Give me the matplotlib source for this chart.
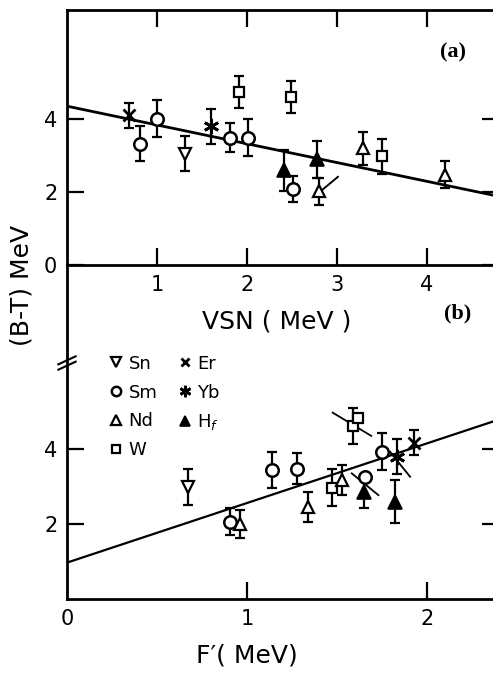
import numpy as np
import matplotlib
matplotlib.use("Agg")
import matplotlib.pyplot as plt
from matplotlib.lines import Line2D

# ---- panel (a): VSN ----
a_x = [0.69, 0.81, 1.00, 1.31, 1.60, 1.81, 2.01, 1.91, 2.49, 2.41, 2.51, 2.78, 2.80, 3.29, 3.50, 4.20]
a_y = [4.11, 3.33, 4.02, 3.06, 3.81, 3.50, 3.50, 4.75, 4.61, 2.60, 2.08, 2.90, 2.03, 3.20, 2.99, 2.48]
a_err = [0.35, 0.48, 0.50, 0.48, 0.48, 0.40, 0.52, 0.45, 0.43, 0.57, 0.35, 0.50, 0.37, 0.46, 0.48, 0.37]
a_el = ["Er", "Sm", "Sm", "Sn", "Yb", "Sm", "Sm", "W", "W", "Hf", "Sm", "Hf", "Nd", "Nd", "W", "Nd"]
a_fit = (4.36, -0.516)
a_tracks = [([2.83, 3.01], [2.05, 2.42])]

# ---- panel (b): F' ----
b_x = [0.67, 0.906, 0.96, 1.14, 1.28, 1.34, 1.47, 1.526, 1.59, 1.615, 1.656, 1.65, 1.748, 1.835, 1.822, 1.93]
b_y = [2.99, 2.06, 2.00, 3.44, 3.48, 2.46, 2.97, 3.17, 4.61, 4.84, 3.26, 2.86, 3.93, 3.80, 2.60, 4.17]
b_err = [0.49, 0.36, 0.38, 0.48, 0.41, 0.40, 0.49, 0.40, 0.48, 0.0, 0.0, 0.43, 0.50, 0.47, 0.58, 0.33]
b_el = ["Sn", "Sm", "Nd", "Sm", "Sm", "Nd", "W", "Nd", "W", "W", "Sm", "Hf", "Sm", "Yb", "Hf", "Er"]
b_fit = (0.97, 1.59)
b_tracks = [([1.476, 1.69], [4.97, 4.35]),
            ([1.582, 1.73], [3.35, 2.77]),
            ([1.794, 1.906], [3.93, 3.26])]

legend_order = ["Sn", "Sm", "Nd", "W", "Er", "Yb", "Hf"]
legend_names = {"Sn": "Sn", "Sm": "Sm", "Nd": "Nd", "W": "W",
                "Er": "Er", "Yb": "Yb", "Hf": "H$_f$"}

# marker styles per element
styles = {
    "Sn": dict(marker="v", ms=9, mfc="white", mec="black", mew=1.6),
    "Sm": dict(marker="o", ms=9, mfc="white", mec="black", mew=1.8),
    "Nd": dict(marker="^", ms=9, mfc="white", mec="black", mew=1.6),
    "W":  dict(marker="s", ms=7, mfc="white", mec="black", mew=1.6),
    "Er": dict(marker="x", ms=8, mfc="black", mec="black", mew=2.0),
    "Yb": dict(marker=(6, 2, 0), ms=11, mfc="black", mec="black", mew=2.0),
    "Hf": dict(marker="^", ms=10, mfc="black", mec="black", mew=1.2),
}

plt.rcParams["font.family"] = ["DejaVu Sans"]

fig = plt.figure(figsize=(4.93, 6.74), dpi=100)
W, H = 493.0, 674.0

def draw_points(ax, xs, ys, errs, els):
    for x, y, e, el in zip(xs, ys, errs, els):
        if e > 0:
            ax.errorbar([x], [y], yerr=[e], fmt="none", ecolor="black",
                        elinewidth=1.6, capsize=3.5, capthick=1.6, zorder=3)
        ax.plot([x], [y], linestyle="none", zorder=4, **styles[el])

def style_axes(ax):
    ax.tick_params(direction="in", length=12, width=1.6, labelsize=15,
                   pad=7, right=True)
    for s in ax.spines.values():
        s.set_linewidth(2.0)

# top panel
ax1 = fig.add_axes([67 / W, (H - 265) / H, 4.8 * 90 / W, 255 / H])
ax1.set_xlim(0, 4.8)
ax1.set_ylim(0, 7.0)
style_axes(ax1)
ax1.tick_params(top=True)
ax1.set_xticks([1, 2, 3, 4])
ax1.set_yticks([0, 2, 4])
xs = np.array(ax1.get_xlim())
ax1.plot(xs, a_fit[0] + a_fit[1] * xs, color="black", lw=2.0, zorder=2)
for tx, ty in a_tracks:
    ax1.plot(tx, ty, color="black", lw=1.4, zorder=2)
draw_points(ax1, a_x, a_y, a_err, a_el)
ax1.text(453 / W, (H - 52) / H, "(a)", transform=fig.transFigure,
         family="Liberation Serif", weight="bold", fontsize=16,
         ha="center", va="center")

# bottom panel
ax2 = fig.add_axes([67 / W, (H - 599) / H, 2.4 * 180 / W, 334 / H])
ax2.patch.set_alpha(0)
ax2.set_xlim(0, 2.4)
ax2.set_ylim(0, 334 / 37.5)
style_axes(ax2)
ax2.spines["top"].set_visible(False)
ax2.set_xticks([0, 1, 2])
ax2.set_yticks([2, 4])
ax2.xaxis.get_major_ticks()[0].tick1line.set_visible(False)
xs = np.array(ax2.get_xlim())
ax2.plot(xs, b_fit[0] + b_fit[1] * xs, color="black", lw=1.6, zorder=2)
for tx, ty in b_tracks:
    ax2.plot(tx, ty, color="black", lw=1.3, zorder=2)
draw_points(ax2, b_x, b_y, b_err, b_el)
ax2.text(458 / W, (H - 313) / H, "(b)", transform=fig.transFigure,
         family="Liberation Serif", weight="bold", fontsize=16,
         ha="center", va="center")

# axis break on left spine
yb = (599 - 363) / 334.0
for dy in (-0.008, 0.008):
    ax2.plot([-0.02, 0.02], [yb + dy - 0.012, yb + dy + 0.012],
             transform=ax2.transAxes, color="black", lw=1.5, clip_on=False)

handles = []
for el in legend_order:
    st = dict(styles[el])
    st["ms"] = st["ms"] * 0.75
    handles.append(Line2D([], [], linestyle="none", **st))
ax2.legend(handles, [legend_names[e] for e in legend_order], ncol=2,
           loc="upper left", bbox_to_anchor=(0.055, 0.78), frameon=False,
           fontsize=13, handletextpad=0.2, columnspacing=1.0,
           labelspacing=0.6, handlelength=1.0)

fig.text(22 / W, (H - 285) / H, "(B-T) MeV", rotation=90, fontsize=18,
         ha="center", va="center")
fig.text(277 / W, (H - 322) / H, "VSN ( MeV )", fontsize=18,
         ha="center", va="center")
fig.text(247 / W, (H - 655) / H, "F\u2032( MeV)", fontsize=18,
         ha="center", va="center")

fig.savefig("out.png", dpi=100)
